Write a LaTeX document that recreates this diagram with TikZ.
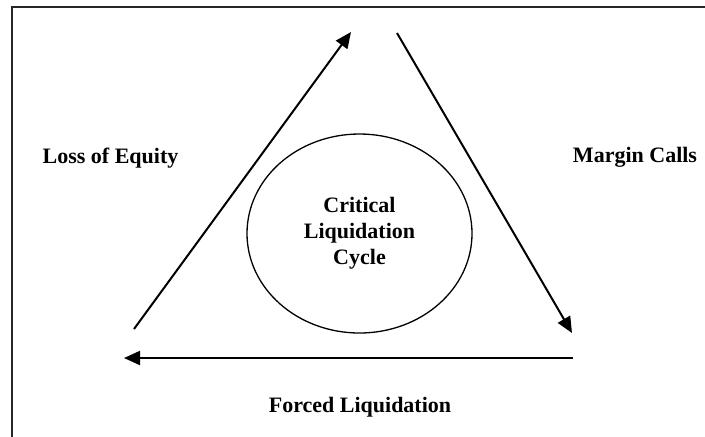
\documentclass[tikz,border=0pt]{standalone}
\usepackage{fontspec}
\setmainfont{Liberation Serif}
\usetikzlibrary{arrows.meta,shapes.geometric}
\begin{document}
\begin{tikzpicture}[x=0.5pt,y=-0.5pt,
  flow/.style={line width=1pt,-{Triangle[length=8pt,width=7pt]}},
  label/.style={font=\fontsize{11}{13}\selectfont\bfseries,inner sep=0pt,align=center},
  cycle/.style={ellipse,draw,line width=0.65pt,minimum width=112.5pt,minimum height=99.5pt,inner sep=0pt}]
  \useasboundingbox (0,0) rectangle (705,436);
  % outer frame, running past the right and bottom edges of the page
  \draw[line width=1pt,black!85] (12,7) rectangle (740,470);

  % the cycle in the middle
  \node[cycle,label] (core) at (359.5,233.5) {Critical\\Liquidation\\Cycle};

  % corners of the triangle of arrows
  \coordinate (leftlow) at (134,329);
  \coordinate (topleft) at (351,32);
  \coordinate (topright) at (397,33);
  \coordinate (rightlow) at (572,333);
  \coordinate (bottomright) at (573,358);
  \coordinate (bottomleft) at (124,358);

  \draw[flow] (leftlow) -- (topleft);
  \draw[flow] (topright) -- (rightlow);
  \draw[flow] (bottomright) -- (bottomleft);

  % stage labels
  \node[label] (equity) at (110.5,158) {Loss of Equity};
  \node[label] (margin) at (635,157) {Margin Calls};
  \node[label] (forced) at (360,407) {Forced Liquidation};
\end{tikzpicture}
\end{document}
